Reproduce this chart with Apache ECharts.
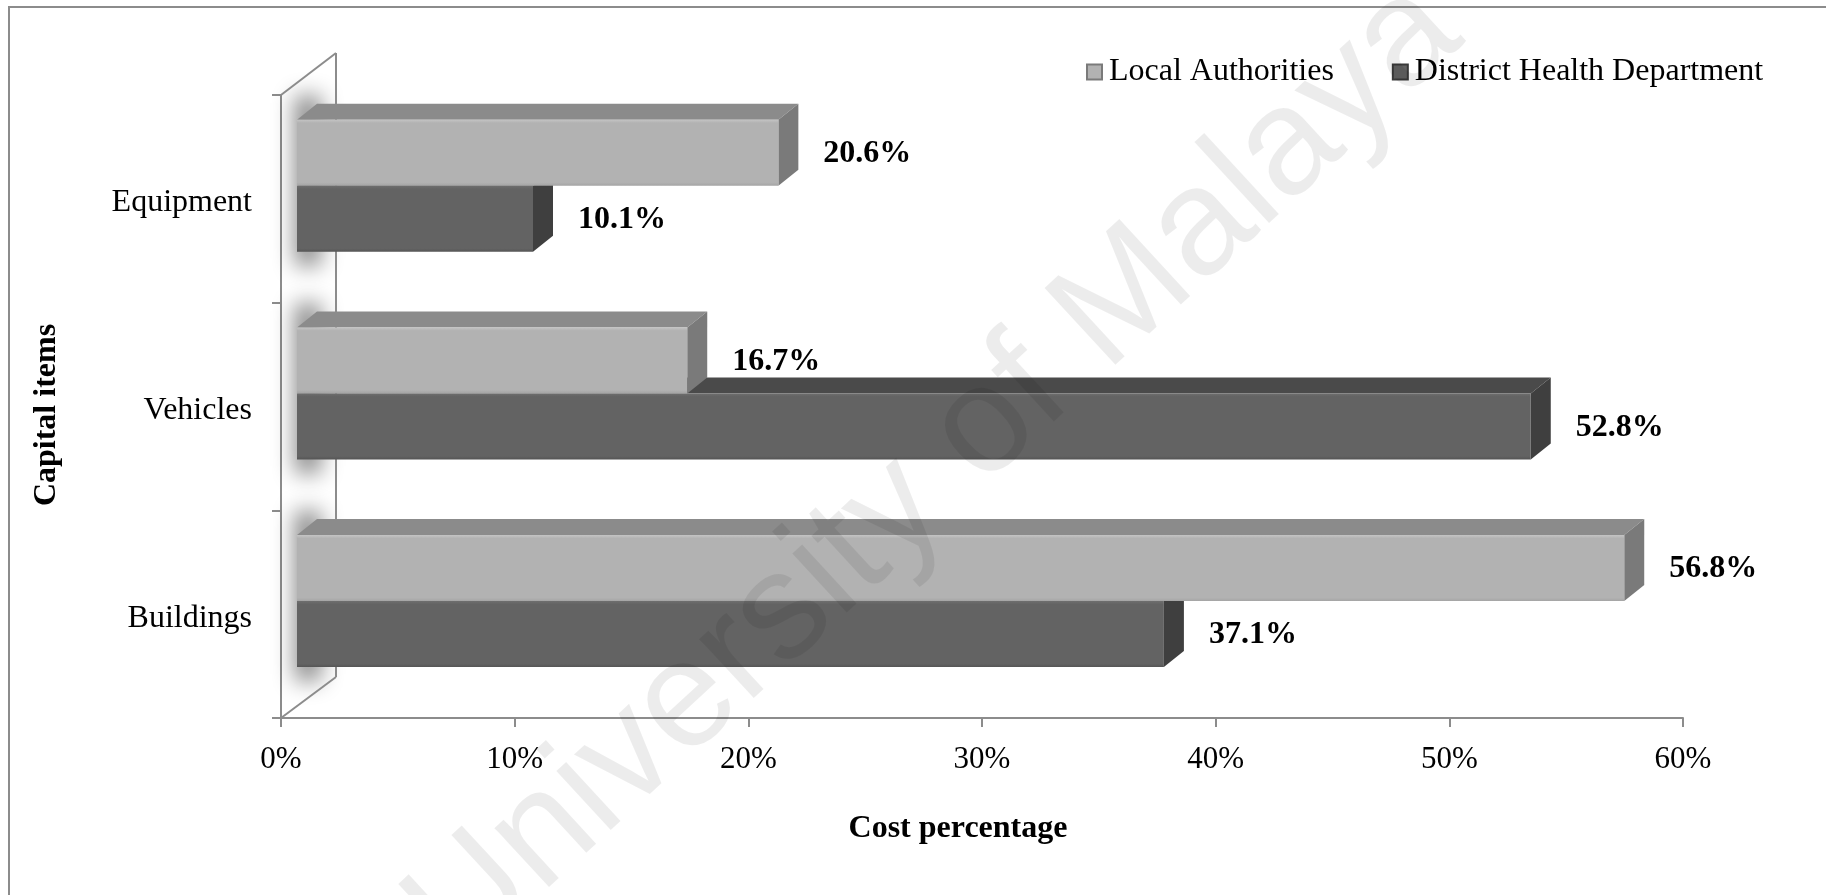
<!DOCTYPE html>
<html>
<head>
<meta charset="utf-8">
<title>Capital items cost percentage</title>
<script src="https://cdn.jsdelivr.net/npm/echarts@6/dist/echarts.min.js"></script>
<style>
  html, body { margin: 0; padding: 0; background: #fff; }
  #chart { width: 1826px; height: 895px; }
</style>
</head>
<body>
<div id="chart"></div>
<script>
// Categories run bottom-to-top on the category axis
const categories = ['Buildings', 'Vehicles', 'Equipment'];
const localAuthorities = [56.8, 16.7, 20.6];
const districtHealthDept = [37.1, 52.8, 10.1];
const seriesNames = ['Local Authorities', 'District Health Department'];
const xAxisTitle = 'Cost percentage';
const yAxisTitle = 'Capital items';
const watermarkText = 'University of Malaya';

const SERIF = '"Liberation Serif", "Times New Roman", serif';
const AXIS_GRAY = '#8c8c8c';

// 3D projection constants (pixels)
const WALL_DX = 55, WALL_DY = 42;   // depth of the side wall
const FRONT_DX = 16;                // bars sit a little behind the front plane
const DEPTH_X = 20, DEPTH_Y = 16;   // depth of each bar box
const BAR_RATIO = 0.318;            // bar thickness as share of a category band
const SHIFT_RATIO = 0.063;          // upward shift of bar pair inside band

const palettes = [
  { front: '#b2b2b2', hi: '#c4c4c4', lo: '#a4a4a4', top: '#8b8b8b', side: '#7a7a7a' },
  { front: '#636363', hi: '#6e6e6e', lo: '#555555', top: '#4a4a4a', side: '#3f3f3f' }
];

function boxRenderer(upper, pal) {
  return function (params, api) {
    const val = api.value(0);
    const cat = api.value(1);
    const base = api.coord([0, cat]);
    const end = api.coord([val, cat]);
    const band = api.size([0, 1])[1];
    const h = band * BAR_RATIO;
    const mid = base[1] - band * SHIFT_RATIO;
    const y0 = upper ? mid - h : mid;
    const y1 = y0 + h;
    const x0 = base[0] + FRONT_DX;
    const x1 = end[0] + FRONT_DX;
    return {
      type: 'group',
      children: [
        {
          type: 'polygon',
          shape: { points: [[x0, y0], [x1, y0], [x1 + DEPTH_X, y0 - DEPTH_Y], [x0 + DEPTH_X, y0 - DEPTH_Y]] },
          style: { fill: pal.top }
        },
        {
          type: 'polygon',
          shape: { points: [[x1, y0], [x1 + DEPTH_X, y0 - DEPTH_Y], [x1 + DEPTH_X, y1 - DEPTH_Y], [x1, y1]] },
          style: { fill: pal.side }
        },
        {
          type: 'rect',
          shape: { x: x0, y: y0, width: x1 - x0, height: h },
          style: {
            fill: new echarts.graphic.LinearGradient(0, 0, 0, 1, [
              { offset: 0, color: pal.hi },
              { offset: 0.05, color: pal.front },
              { offset: 0.95, color: pal.front },
              { offset: 1, color: pal.lo }
            ])
          }
        },
        {
          type: 'text',
          style: {
            text: val.toFixed(1) + '%',
            x: x1 + DEPTH_X + 25,
            y: y0 + h / 2 + 1,
            align: 'left',
            verticalAlign: 'middle',
            font: 'bold 32px ' + SERIF,
            fill: '#000'
          }
        }
      ]
    };
  };
}

// Side wall standing along the category axis, with soft shading behind each bar pair
function wallRenderer(params, api) {
  const b = api.coord([0, 0]);
  const band = api.size([0, 1])[1];
  const x0 = b[0];
  const bottom = b[1] + band / 2;
  const top = api.coord([0, categories.length - 1])[1] - band / 2;
  const lineStyle = { stroke: AXIS_GRAY, lineWidth: 2, fill: null };
  const children = [];
  const OFF = 4000;
  for (let i = 0; i < categories.length; i++) {
    const c = api.coord([0, i])[1] - band * SHIFT_RATIO;
    const h = band * BAR_RATIO;
    children.push({
      type: 'rect',
      shape: { x: x0 + 14 - OFF, y: c - h - DEPTH_Y - 8, width: 26, height: 2 * h + DEPTH_Y + 22 },
      style: {
        fill: '#000',
        shadowColor: 'rgba(0,0,0,0.48)',
        shadowBlur: 22,
        shadowOffsetX: OFF,
        shadowOffsetY: 0
      }
    });
  }
  children.push(
    { type: 'line', shape: { x1: x0 + WALL_DX, y1: top - WALL_DY, x2: x0 + WALL_DX, y2: bottom - WALL_DY + 1 }, style: lineStyle },
    { type: 'line', shape: { x1: x0, y1: top, x2: x0 + WALL_DX, y2: top - WALL_DY }, style: lineStyle },
    { type: 'line', shape: { x1: x0, y1: bottom, x2: x0 + WALL_DX, y2: bottom - WALL_DY + 1 }, style: lineStyle }
  );
  return { type: 'group', children: children };
}

const chart = echarts.init(document.getElementById('chart'), null, { renderer: 'canvas' });

chart.setOption({
  animation: false,
  backgroundColor: '#fff',
  textStyle: { fontFamily: SERIF },
  grid: { left: 281, right: 143, top: 95, bottom: 177, containLabel: false },
  legend: {
    data: seriesNames,
    left: 1081,
    top: 51,
    icon: 'rect',
    itemWidth: 15,
    itemHeight: 15,
    itemGap: 58,
    selectedMode: false,
    textStyle: { fontFamily: SERIF, fontSize: 32, color: '#000', padding: [0, 0, 0, 2] }
  },
  xAxis: {
    type: 'value',
    min: 0,
    max: 60,
    interval: 10,
    axisLine: { show: true, lineStyle: { color: AXIS_GRAY, width: 2 } },
    axisTick: { show: true, length: 9, lineStyle: { color: AXIS_GRAY, width: 2 } },
    splitLine: { show: false },
    axisLabel: { formatter: '{value}%', fontFamily: SERIF, fontSize: 31, color: '#000', margin: 26 }
  },
  yAxis: {
    type: 'category',
    data: categories,
    axisLine: { show: true, lineStyle: { color: AXIS_GRAY, width: 2 } },
    axisTick: { show: true, length: 9, lineStyle: { color: AXIS_GRAY, width: 2 } },
    splitLine: { show: false },
    axisLabel: { fontFamily: SERIF, fontSize: 32, color: '#000', margin: 29, verticalAlign: 'top', lineHeight: 8 }
  },
  graphic: [
    {
      type: 'rect',
      z: -10,
      shape: { x: 9, y: 7, width: 1840, height: 920 },
      style: { fill: null, stroke: AXIS_GRAY, lineWidth: 2 }
    },
    {
      type: 'text',
      x: 958,
      y: 829,
      style: { text: xAxisTitle, font: 'bold 32px ' + SERIF, fill: '#000', align: 'center', verticalAlign: 'middle' }
    },
    {
      type: 'text',
      x: 47,
      y: 415,
      rotation: Math.PI / 2,
      style: { text: yAxisTitle, font: 'bold 32px ' + SERIF, fill: '#000', align: 'center', verticalAlign: 'middle' }
    },
    {
      type: 'text',
      x: 935,
      y: 474,
      z: 100,
      silent: true,
      rotation: 0.745,
      style: {
        text: watermarkText,
        font: '152px "Liberation Sans", Arial, sans-serif',
        fill: 'rgba(0,0,0,0.075)',
        align: 'center',
        verticalAlign: 'middle'
      }
    }
  ],
  series: [
    {
      name: 'wall',
      type: 'custom',
      silent: true,
      z: 1,
      renderItem: wallRenderer,
      data: [[0, 0]],
      encode: { x: 0, y: 1 }
    },
    {
      name: seriesNames[1],
      type: 'custom',
      z: 2,
      itemStyle: { color: palettes[1].front, borderColor: '#3a3a3a', borderWidth: 1 },
      renderItem: boxRenderer(false, palettes[1]),
      data: districtHealthDept.map((v, i) => [v, i]),
      encode: { x: 0, y: 1 }
    },
    {
      name: seriesNames[0],
      type: 'custom',
      z: 3,
      itemStyle: { color: palettes[0].front, borderColor: '#7a7a7a', borderWidth: 1 },
      renderItem: boxRenderer(true, palettes[0]),
      data: localAuthorities.map((v, i) => [v, i]),
      encode: { x: 0, y: 1 }
    }
  ]
});
</script>
</body>
</html>
